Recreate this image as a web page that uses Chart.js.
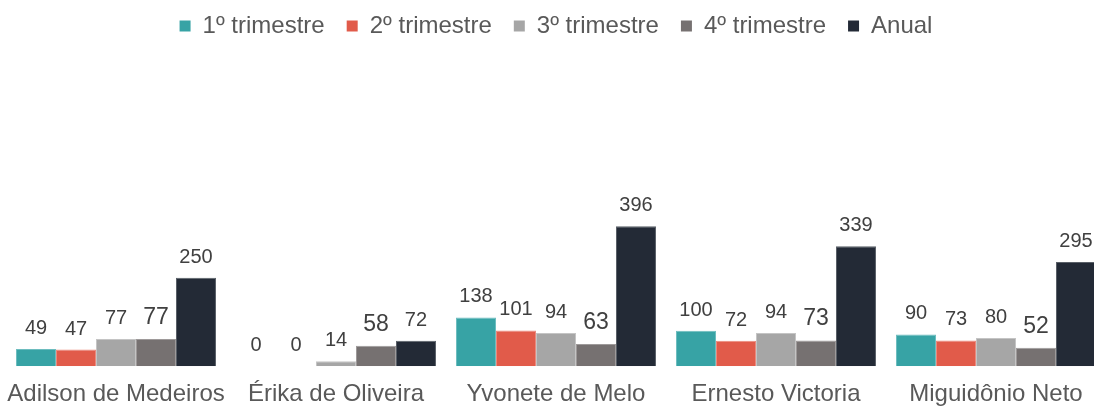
<!DOCTYPE html>
<html lang="pt">
<head>
<meta charset="UTF-8">
<title>Vendas por trimestre</title>
<script src="https://cdn.jsdelivr.net/npm/chart.js"></script>
<style>
  body { margin: 0; overflow: hidden; background: #fff; }
  .wrap { width: 1112px; height: 434px; margin-top: -8px; }
</style>
</head>
<body>
<div class="wrap">
  <canvas id="grafico" width="1112" height="434"></canvas>
</div>
<script>
  // dados
  const vendedores = ["Adilson de Medeiros", "Érika de Oliveira", "Yvonete de Melo", "Ernesto Victoria", "Miguidônio Neto"];
  const series = ["1º trimestre", "2º trimestre", "3º trimestre", "4º trimestre", "Anual"];
  const tri1 = [49, 0, 138, 100, 90];
  const tri2 = [47, 0, 101, 72, 73];
  const tri3 = [77, 14, 94, 94, 80];
  const tri4 = [77, 58, 63, 73, 52];
  const anual = [250, 72, 396, 339, 295];
  const cores = ["#37A3A5", "#E15B4A", "#A6A6A6", "#767171", "#232A36"];
  const bordas = ["#6DBDBF", "#EA8A7E", "#C4C4C4", "#9E9A9A", "#5A6068"];
  const tamanhoRotulo = [20, 20, 20, 23, 20];

  const valores = [tri1, tri2, tri3, tri4, anual];

  // escreve o valor em cima de cada barra
  const rotulos = {
    id: "rotulos",
    afterDatasetsDraw(chart) {
      const ctx = chart.ctx;
      ctx.save();
      ctx.fillStyle = "#404040";
      ctx.textAlign = "center";
      ctx.textBaseline = "alphabetic";
      chart.data.datasets.forEach(function (ds, i) {
        ctx.font = tamanhoRotulo[i] + "px 'Liberation Sans', Arial, sans-serif";
        chart.getDatasetMeta(i).data.forEach(function (bar, j) {
          ctx.fillText(String(ds.data[j]), bar.x, bar.y - 15);
        });
      });
      ctx.restore();
    }
  };

  new Chart(document.getElementById("grafico"), {
    type: "bar",
    data: {
      labels: vendedores,
      datasets: series.map(function (nome, i) {
        return {
          label: nome,
          data: valores[i],
          backgroundColor: cores[i],
          borderColor: bordas[i],
          borderWidth: 1,
          categoryPercentage: 0.909,
          barPercentage: 1.0
        };
      })
    },
    options: {
      responsive: false,
      animation: false,
      layout: { padding: { left: 6, right: 6, top: 0, bottom: 3 } },
      plugins: {
        tooltip: { enabled: false },
        legend: {
          position: "top",
          labels: {
            boxWidth: 11,
            boxHeight: 11,
            padding: 22,
            color: "#595959",
            font: { family: "'Liberation Sans', Arial, sans-serif", size: 24 },
            generateLabels: function (chart) {
              return chart.data.datasets.map(function (ds, i) {
                return {
                  text: ds.label,
                  fillStyle: cores[i],
                  strokeStyle: cores[i],
                  lineWidth: 0,
                  fontColor: "#595959",
                  datasetIndex: i
                };
              });
            }
          }
        }
      },
      scales: {
        x: {
          grid: { display: false, drawTicks: false },
          border: { display: false },
          // os nomes podem passar um pouco da area, sem empurrar as barras
          afterFit: function (scale) {
            scale.paddingLeft = 0;
            scale.paddingRight = 0;
          },
          ticks: {
            color: "#595959",
            padding: 14,
            autoSkip: false,
            minRotation: 0,
            maxRotation: 0,
            font: { family: "'Liberation Sans', Arial, sans-serif", size: 24 }
          }
        },
        y: {
          display: false,
          min: 0,
          max: 900
        }
      }
    },
    plugins: [rotulos]
  });
</script>
</body>
</html>
